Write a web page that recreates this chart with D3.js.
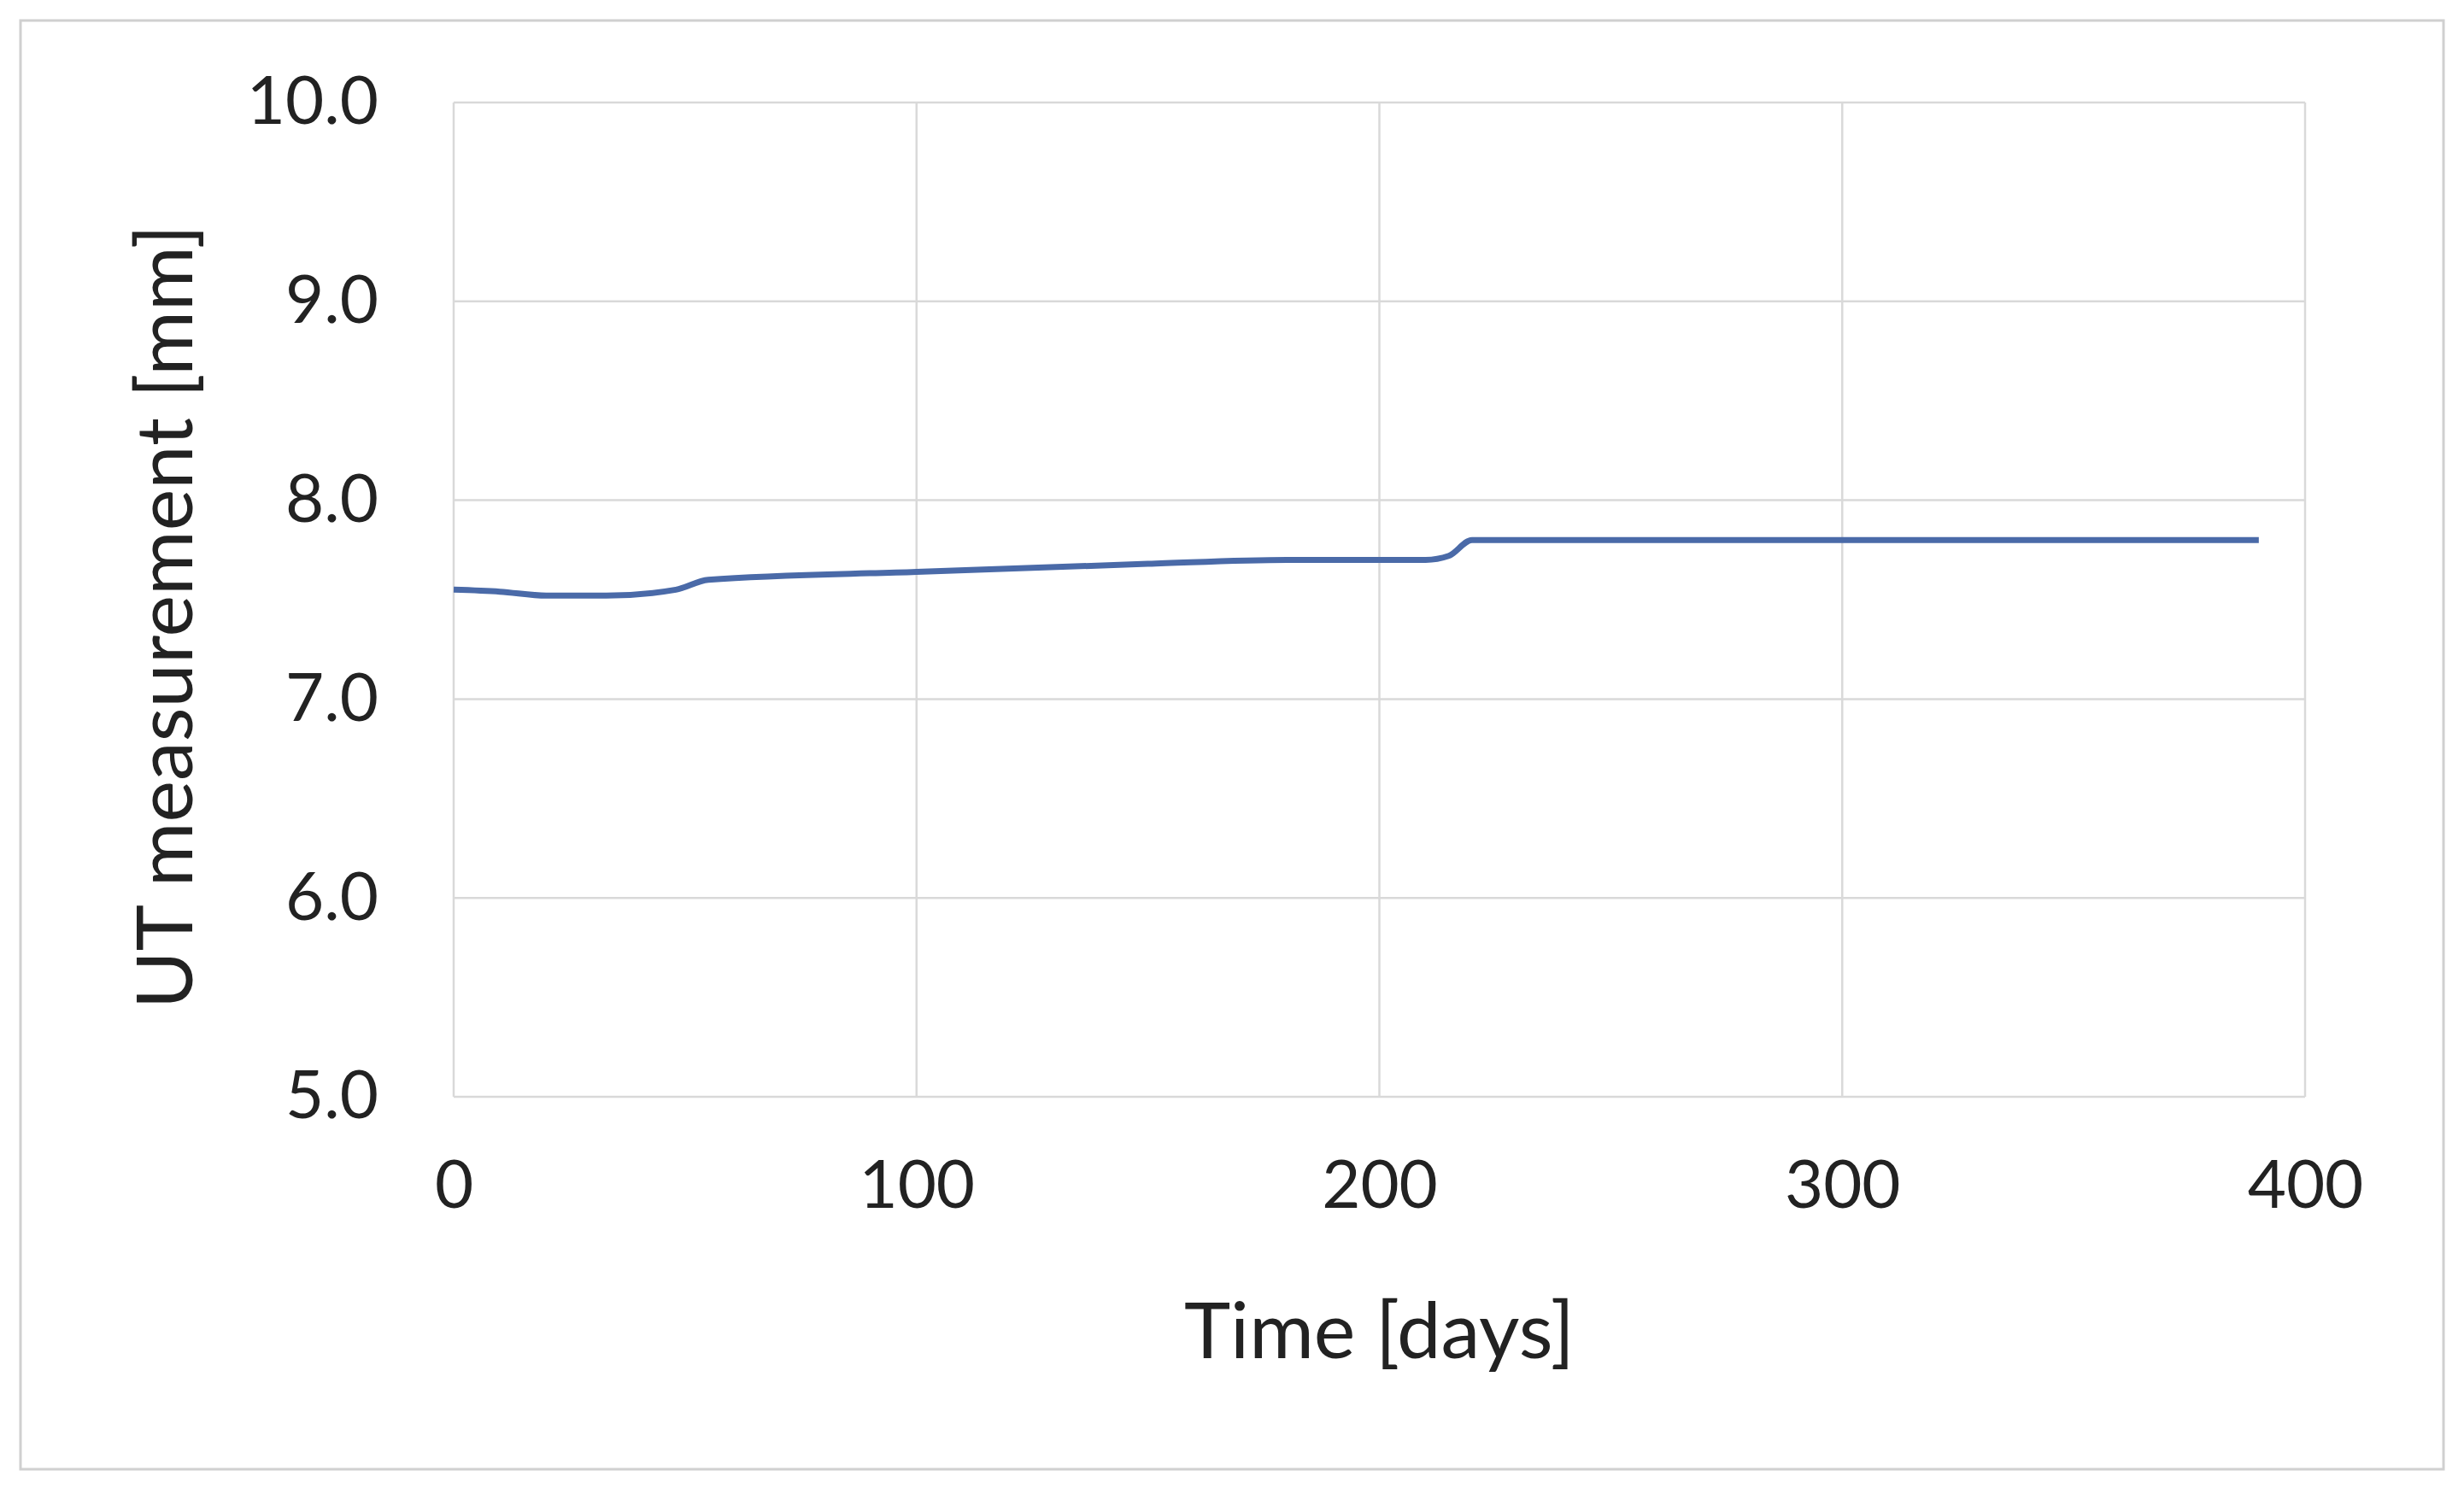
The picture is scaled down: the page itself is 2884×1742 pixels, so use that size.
<!DOCTYPE html>
<html>
<head>
<meta charset="utf-8">
<script src="https://cdn.jsdelivr.net/npm/d3@7"></script>
<style>
body { margin: 0; background: #fff; }
text { font-family: Lato, "Open Sans", sans-serif; fill: #222; }
</style>
</head>
<body>
<div id="graph"></div>
<script>
const svgw = 2884
const svgh = 1742

// data
const days = [0, 10, 20, 33, 48, 55, 100, 150, 180, 210, 215, 220, 230, 300, 390]
const thickness = [7.55, 7.54, 7.52, 7.52, 7.55, 7.6, 7.64, 7.68, 7.7, 7.7, 7.72, 7.8, 7.8, 7.8, 7.8]
const xTicks = [0, 100, 200, 300, 400]
const yTicks = [5, 6, 7, 8, 9, 10]

const m = { left: 531, right: 2698, top: 120, bottom: 1284 }

const svg = d3.select('#graph').append('svg')
    .attr('width', svgw).attr('height', svgh)

svg.append('rect')
    .attr('x', 24).attr('y', 24)
    .attr('width', 2836).attr('height', 1696)
    .attr('fill', '#fff').attr('stroke', '#d0d0d0').attr('stroke-width', 3)

const x = d3.scaleLinear().domain([0, 400]).range([m.left, m.right])
const y = d3.scaleLinear().domain([5, 10]).range([m.bottom, m.top])

// grid
svg.append('g').selectAll('line').data(yTicks).enter().append('line')
    .attr('x1', m.left).attr('x2', m.right)
    .attr('y1', d => y(d)).attr('y2', d => y(d))
    .attr('stroke', '#d9d9d9').attr('stroke-width', 2.5)
svg.append('g').selectAll('line').data(xTicks).enter().append('line')
    .attr('y1', m.top).attr('y2', m.bottom)
    .attr('x1', d => x(d)).attr('x2', d => x(d))
    .attr('stroke', '#d9d9d9').attr('stroke-width', 2.5)

// axes (labels only)
const xAxis = d3.axisBottom(x).tickValues(xTicks).tickSize(0).tickPadding(60)
const yAxis = d3.axisLeft(y).tickValues(yTicks).tickSize(0).tickPadding(88).tickFormat(d3.format('.1f'))

svg.append('g').attr('transform', `translate(0,${m.bottom})`).call(xAxis)
    .call(g => g.select('.domain').remove())
    .selectAll('text').style('font-size', '78px').attr('dy', '0.9em')
svg.append('g').attr('transform', `translate(${m.left},0)`).call(yAxis)
    .call(g => g.select('.domain').remove())
    .selectAll('text').style('font-size', '78px')

const line = d3.line().x((d, i) => x(days[i])).y(d => y(d)).curve(d3.curveMonotoneX)
svg.append('path').datum(thickness)
    .attr('d', line).attr('fill', 'none')
    .attr('stroke', '#4a6aa8').attr('stroke-width', 7)

svg.append('text')
    .attr('x', (m.left + m.right) / 2).attr('y', 1590)
    .attr('text-anchor', 'middle').style('font-size', '92px')
    .text('Time [days]')

svg.append('text')
    .attr('transform', `translate(225,${(m.top + m.bottom) / 2 + 20}) rotate(-90)`)
    .attr('text-anchor', 'middle').style('font-size', '92px')
    .text('UT measurement  [mm]')
</script>
</body>
</html>
